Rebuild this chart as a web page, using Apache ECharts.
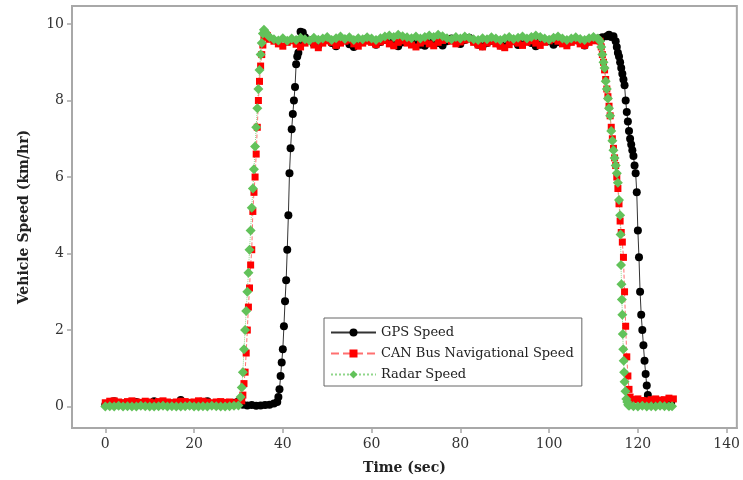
<!DOCTYPE html>
<html>
<head>
	<meta charset="utf-8">
	<script src="https://cdn.jsdelivr.net/npm/echarts/dist/echarts.min.js"></script>
</head>
<body style="margin:0;">
	<div id="main" style="width:743px;height:480px;"></div>
	<script type="text/javascript">
        // tick labels
        var xTicks = [0, 20, 40, 60, 80, 100, 120, 140];
        var yTicks = [0, 2, 4, 6, 8, 10];
        var seriesNames = ['GPS Speed', 'CAN Bus Navigational Speed', 'Radar Speed'];

        // GPS speed (km/hr)
        var gpsTime = [0,1,2,3,4,5,6,7,8,9,10,11,12,13,14,15,16,17,18,19,20,21,22,23,24,25,26,27,28,29,30,31,32,33,34,35,36,37,38,
            38.75,39,39.25,39.5,39.75,40,40.25,40.5,40.75,41,41.25,41.5,41.75,42,42.25,42.5,42.75,43,43.25,43.5,43.75,44,44.5,45,
            46,47,48,49,50,51,52,53,54,55,56,57,58,59,60,61,62,63,64,65,66,67,68,69,70,71,72,73,74,75,76,77,78,79,80,
            81,82,83,84,85,86,87,88,89,90,91,92,93,94,95,96,97,98,99,100,101,102,103,104,105,106,107,108,109,110,111,112,
            113,113.5,114,114.5,115,115.25,115.5,115.75,116,116.25,116.5,116.75,117,117.25,117.5,117.75,118,118.25,118.5,118.75,
            119,119.25,119.5,119.75,120,120.25,120.5,120.75,121,121.25,121.5,121.75,122,122.25,122.5,122.75,123,123.5,124,124.5,
            125,125.5,126,126.5,127,127.5];
        var gpsSpeed = [0.05,0.06,0.14,0.05,0.08,0.04,0.06,0.12,0.05,0.04,0.07,0.14,0.06,0.05,0.04,0.08,0.06,0.17,0.1,0.05,0.06,0.04,0.08,0.14,0.06,0.05,0.04,0.05,0.08,0.1,0.14,0.05,0.03,0.04,0.02,0.03,0.04,0.05,0.08,
            0.12,0.25,0.45,0.8,1.15,1.5,2.1,2.75,3.3,4.1,5.0,6.1,6.75,7.25,7.65,8.0,8.35,8.95,9.15,9.25,9.55,9.8,9.78,9.65,
            9.58,9.48,9.44,9.55,9.6,9.5,9.42,9.55,9.58,9.47,9.4,9.52,9.57,9.62,9.55,9.46,9.53,9.58,9.55,9.45,9.42,9.52,9.56,9.6,9.54,9.46,9.43,9.53,9.57,9.5,9.44,9.55,9.62,9.56,9.48,
            9.58,9.64,9.55,9.46,9.42,9.5,9.56,9.52,9.44,9.54,9.58,9.55,9.45,9.53,9.57,9.5,9.42,9.54,9.58,9.55,9.46,9.53,9.57,9.48,9.55,9.58,9.52,9.44,9.55,9.6,9.62,9.65,
            9.68,9.72,9.66,9.68,9.55,9.4,9.25,9.15,9.0,8.85,8.7,8.55,8.4,8.0,7.7,7.45,7.2,7.0,6.85,6.7,
            6.55,6.3,6.1,5.6,4.6,3.9,3.0,2.4,2.0,1.6,1.2,0.85,0.55,0.3,0.15,0.1,0.08,0.1,0.08,0.07,
            0.1,0.08,0.08,0.1,0.08,0.1];

        // CAN bus navigational speed
        var canTime = [0,1,2,3,4,5,6,7,8,9,10,11,12,13,14,15,16,17,18,19,20,21,22,23,24,25,26,27,28,29,30,
            30.75,31,31.25,31.5,31.75,32,32.25,32.5,32.75,33,33.25,33.5,33.75,34,34.25,34.5,34.75,35,35.25,35.5,35.75,36,36.5,37,
            38,39,40,41,42,43,44,45,46,47,48,49,50,51,52,53,54,55,56,57,58,59,60,61,62,63,64,65,66,67,68,69,70,71,72,73,74,
            75,76,77,78,79,80,81,82,83,84,85,86,87,88,89,90,91,92,93,94,95,96,97,98,99,100,101,102,103,104,105,106,107,108,109,110,111,
            111.5,111.75,112,112.25,112.5,112.75,113,113.25,113.5,113.75,114,114.25,114.5,114.75,115,115.25,115.5,115.75,116,116.25,
            116.5,116.75,117,117.25,117.5,117.75,118,118.25,118.5,119,120,121,122,123,124,125,126,127,128];
        var canSpeed = [0.1,0.14,0.15,0.12,0.1,0.13,0.15,0.12,0.11,0.14,0.12,0.1,0.13,0.15,0.12,0.1,0.12,0.14,0.13,0.11,0.12,0.15,0.14,0.12,0.1,0.12,0.13,0.11,0.12,0.1,0.12,
            0.15,0.3,0.6,0.9,1.4,2.0,2.6,3.1,3.7,4.1,5.1,5.6,6.0,6.6,7.3,8.0,8.5,8.9,9.2,9.45,9.65,9.75,9.7,9.6,
            9.55,9.48,9.42,9.52,9.56,9.47,9.4,9.5,9.55,9.45,9.38,9.5,9.56,9.52,9.44,9.5,9.55,9.58,9.48,9.42,9.5,9.55,9.52,9.46,9.53,9.57,9.48,9.43,9.52,9.56,9.5,9.45,9.4,9.5,9.55,9.48,9.43,
            9.52,9.57,9.6,9.55,9.48,9.53,9.58,9.6,9.52,9.45,9.4,9.5,9.55,9.48,9.42,9.38,9.46,9.54,9.5,9.44,9.52,9.56,9.5,9.44,9.52,9.56,9.6,9.55,9.48,9.43,9.52,9.56,9.48,9.44,9.52,9.56,9.58,
            9.55,9.4,9.2,9.0,8.8,8.55,8.3,8.1,7.85,7.6,7.3,7.0,6.75,6.5,6.3,6.0,5.7,5.3,4.85,4.55,
            4.3,3.9,3.0,2.1,1.3,0.8,0.45,0.25,0.18,0.18,0.2,0.16,0.15,0.18,0.2,0.17,0.18,0.22,0.2];

        // radar speed
        var radarTime = [0,1,2,3,4,5,6,7,8,9,10,11,12,13,14,15,16,17,18,19,20,21,22,23,24,25,26,27,28,29,30,
            30.5,30.75,31,31.25,31.5,31.75,32,32.25,32.5,32.75,33,33.25,33.5,33.75,34,34.25,34.5,34.75,35,35.25,35.5,35.75,36,36.5,
            37,38,39,40,41,42,43,44,45,46,47,48,49,50,51,52,53,54,55,56,57,58,59,60,61,62,63,64,65,66,67,68,69,70,71,72,73,74,
            75,76,77,78,79,80,81,82,83,84,85,86,87,88,89,90,91,92,93,94,95,96,97,98,99,100,101,102,103,104,105,106,107,108,109,110,111,
            111.5,111.75,112,112.25,112.5,112.75,113,113.25,113.5,113.75,114,114.25,114.5,114.75,115,115.25,115.5,115.75,116,116.1,
            116.2,116.3,116.4,116.5,116.6,116.7,116.8,116.9,117,117.2,117.4,117.6,117.8,118,119,120,121,122,123,124,125,126,127,127.7];
        var radarSpeed = [0.0,0.01,0.0,0.02,0.0,0.01,0.0,0.0,0.02,0.01,0.0,0.0,0.01,0.02,0.0,0.01,0.0,0.0,0.01,0.02,0.0,0.0,0.01,0.0,0.02,0.01,0.0,0.0,0.01,0.02,0.03,
            0.25,0.5,0.9,1.5,2.0,2.5,3.0,3.5,4.1,4.6,5.2,5.7,6.2,6.8,7.3,7.8,8.3,8.8,9.2,9.5,9.75,9.85,9.8,9.72,
            9.66,9.6,9.57,9.63,9.56,9.62,9.58,9.64,9.6,9.57,9.64,9.59,9.62,9.66,9.58,9.63,9.67,9.61,9.65,9.58,9.63,9.6,9.65,9.62,9.58,9.63,9.67,9.7,9.66,9.72,9.68,9.65,9.63,9.67,9.62,9.66,9.7,9.66,
            9.72,9.68,9.63,9.6,9.66,9.62,9.67,9.64,9.6,9.58,9.63,9.6,9.65,9.62,9.58,9.63,9.66,9.61,9.64,9.67,9.62,9.66,9.7,9.66,9.62,9.59,9.64,9.67,9.62,9.58,9.62,9.65,9.61,9.58,9.63,9.66,9.62,
            9.55,9.4,9.2,9.0,8.85,8.5,8.3,8.05,7.8,7.6,7.2,6.95,6.7,6.5,6.3,6.1,5.85,5.4,5.0,4.5,
            3.7,3.2,2.8,2.4,1.9,1.5,1.2,0.9,0.65,0.4,0.2,0.12,0.05,0.02,0.01,0.0,0.02,0.0,0.01,0.0,0.02,0.01,0.0,0.01];

        function pairs(t, v) {
            return t.map(function (x, i) { return [x, v[i]]; });
        }

        var serif = 'DejaVu Serif';
        var frame = '#a8a8a8';

        var myChart = echarts.init(document.getElementById('main'));
        var option = {
            animation: false,
            grid: {
                left: 72, right: 3, top: 6, bottom: 52,
                show: true, borderColor: frame, borderWidth: 2
            },
            legend: {
                orient: 'vertical',
                left: 324, top: 318,
                padding: [8, 8, 5, 6],
                itemWidth: 45, itemHeight: 10, itemGap: 8,
                borderColor: '#666', borderWidth: 1,
                textStyle: { fontFamily: serif, fontSize: 13, color: '#222' },
                data: seriesNames
            },
            xAxis: {
                type: 'value',
                min: -7.5, max: 142.3,
                splitLine: { show: false },
                axisLine: { onZero: false, lineStyle: { color: frame, width: 2 } },
                axisTick: { customValues: xTicks, length: 5, lineStyle: { color: frame, width: 1.5 } },
                axisLabel: { customValues: xTicks, margin: 9, fontFamily: serif, fontSize: 14, color: '#333' },
                name: 'Time (sec)',
                nameLocation: 'middle',
                nameGap: 33,
                nameTextStyle: { fontFamily: serif, fontWeight: 'bold', fontSize: 14, color: '#222' }
            },
            yAxis: {
                type: 'value',
                min: -0.56, max: 10.47,
                splitLine: { show: false },
                axisLine: { onZero: false, lineStyle: { color: frame, width: 2 } },
                axisTick: { customValues: yTicks, length: 5, lineStyle: { color: frame, width: 1.5 } },
                axisLabel: { customValues: yTicks, margin: 8, fontFamily: serif, fontSize: 14, color: '#333' },
                name: 'Vehicle Speed (km/hr)',
                nameLocation: 'middle',
                nameGap: 41,
                nameTextStyle: { fontFamily: serif, fontWeight: 'bold', fontSize: 14, color: '#222' }
            },
            series: [
                {
                    name: seriesNames[0],
                    type: 'line',
                    data: pairs(gpsTime, gpsSpeed),
                    symbol: 'circle', symbolSize: 8,
                    itemStyle: { color: '#000' },
                    lineStyle: { color: '#333', width: 1 }
                },
                {
                    name: seriesNames[1],
                    type: 'line',
                    data: pairs(canTime, canSpeed),
                    symbol: 'rect', symbolSize: 7,
                    itemStyle: { color: '#ff0000' },
                    lineStyle: { color: '#ff7070', width: 1, type: 'dashed' }
                },
                {
                    name: seriesNames[2],
                    type: 'line',
                    data: pairs(radarTime, radarSpeed),
                    symbol: 'diamond', symbolSize: 10,
                    itemStyle: { color: '#62c25a' },
                    lineStyle: { color: '#8fd68a', width: 1, type: 'dotted' }
                }
            ]
        };
        myChart.setOption(option);
    </script>
</body>
</html>
